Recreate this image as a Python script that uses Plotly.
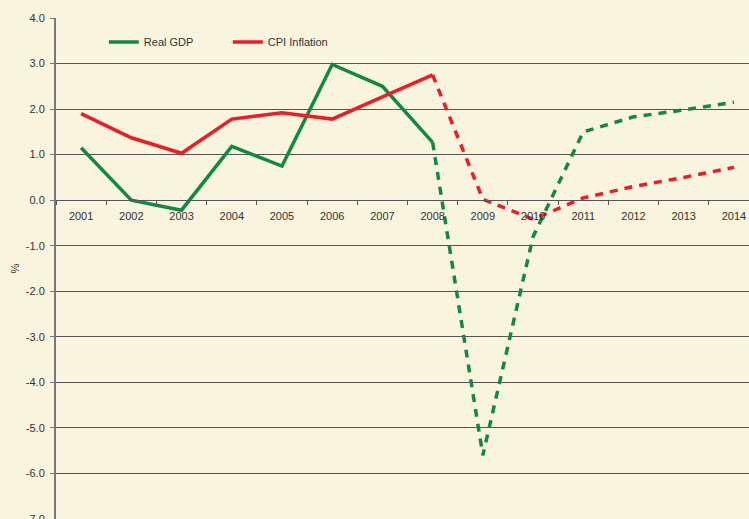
import plotly.graph_objects as go

years = ["2001", "2002", "2003", "2004", "2005", "2006", "2007",
         "2008", "2009", "2010", "2011", "2012", "2013", "2014"]
gdp_actual = [1.15, 0.0, -0.22, 1.18, 0.75, 2.98, 2.5, 1.27]
gdp_forecast = [1.27, -5.6, -0.8, 1.5, 1.83, 1.98, 2.15]
cpi_actual = [1.9, 1.37, 1.03, 1.78, 1.92, 1.78, 2.27, 2.75]
cpi_forecast = [2.75, 0.02, -0.42, 0.05, 0.3, 0.5, 0.72]
y_ticks = [4, 3, 2, 1, 0, -1, -2, -3, -4, -5, -6, -7]

GREEN = "#118A3F"
RED = "#EE1C25"
BG = "#F9F4DD"

fig = go.Figure()
fig.add_trace(go.Scatter(x=years[:8], y=gdp_actual, mode="lines", name="Real GDP",
                         line=dict(color=GREEN, width=3.5)))
fig.add_trace(go.Scatter(x=years[:8], y=cpi_actual, mode="lines", name="CPI Inflation",
                         line=dict(color=RED, width=3.5)))
fig.add_trace(go.Scatter(x=years[7:], y=gdp_forecast, mode="lines", showlegend=False,
                         line=dict(color=GREEN, width=3.5, dash="8px,7px")))
fig.add_trace(go.Scatter(x=years[7:], y=cpi_forecast, mode="lines", showlegend=False,
                         line=dict(color=RED, width=3.5, dash="8px,7px")))

fig.update_layout(
    width=749, height=519,
    margin=dict(l=56, r=0, t=18, b=0, pad=0),
    paper_bgcolor=BG, plot_bgcolor=BG,
    font=dict(family="Liberation Sans, Arial, sans-serif", size=11, color="#333333"),
    legend=dict(orientation="h", x=0.069, y=0.952, xanchor="left", yanchor="middle",
                bgcolor="rgba(0,0,0,0)", font=dict(size=11, color="#333333"),
                entrywidth=79, entrywidthmode="pixels"),
    xaxis=dict(type="category", categoryorder="array", categoryarray=years,
               range=[-0.5, 13.3], showgrid=False, zeroline=False, automargin=False,
               showline=True, linecolor="#555555", linewidth=1,
               ticks="outside", tickson="boundaries", ticklen=4, tickcolor="#555555",
               ticklabelstandoff=6, ticklabeloverflow="allow",
               anchor="free", position=7 / 11),
    yaxis=dict(range=[-7, 4], tickmode="array", tickvals=y_ticks,
               ticktext=[f"{v:.1f}" for v in y_ticks], automargin=False,
               showgrid=True, gridcolor="#555555", gridwidth=1, zeroline=False,
               showline=True, linecolor="#777777", linewidth=2,
               ticks="outside", ticklen=4, tickcolor="#777777",
               ticklabelstandoff=3, ticklabeloverflow="allow"),
    annotations=[dict(text="%", textangle=-90, xref="paper", yref="paper",
                      x=-0.0606, y=0.5, xanchor="center", yanchor="middle",
                      showarrow=False, font=dict(size=11, color="#333333"))],
)

page_fix = ("document.documentElement.style.margin='0';"
            "document.body.style.margin='0';"
            "document.body.style.overflow='hidden';"
            "document.documentElement.style.overflow='hidden';")

fig.write_html("out.html", post_script=page_fix, config={"displayModeBar": False})
